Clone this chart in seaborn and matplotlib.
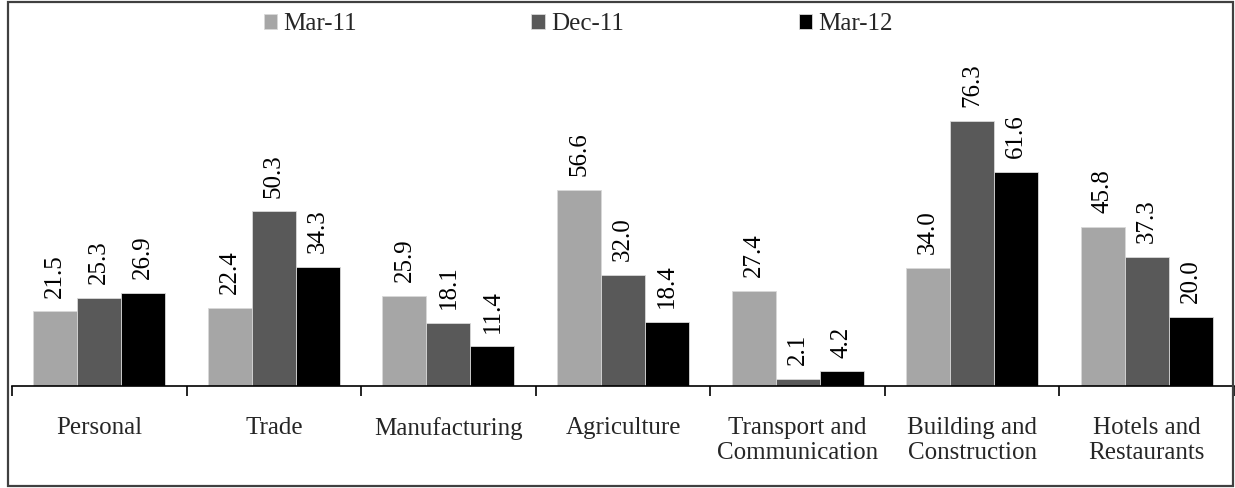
import matplotlib
matplotlib.use("Agg")
import matplotlib.pyplot as plt
from matplotlib.patches import Rectangle
from matplotlib.ticker import FixedLocator, NullFormatter
import pandas as pd
import seaborn as sns

# Sector categories (two-line labels where the text wraps)
sectors = [
    "Personal",
    "Trade",
    "Manufacturing",
    "Agriculture",
    "Transport and\nCommunication",
    "Building and\nConstruction",
    "Hotels and\nRestaurants",
]
periods = ["Mar-11", "Dec-11", "Mar-12"]

mar_11 = [21.5, 22.4, 25.9, 56.6, 27.4, 34.0, 45.8]
dec_11 = [25.3, 50.3, 18.1, 32.0, 2.1, 76.3, 37.3]
mar_12 = [26.9, 34.3, 11.4, 18.4, 4.2, 61.6, 20.0]

colors = ["#A6A6A6", "#595959", "#000000"]

df = pd.DataFrame({
    "sector": sectors * 3,
    "period": [periods[0]] * 7 + [periods[1]] * 7 + [periods[2]] * 7,
    "value": mar_11 + dec_11 + mar_12,
})

sns.set_theme(style="white")
plt.rcParams["font.family"] = ["Liberation Serif", "DejaVu Serif"]
FS = 18

W, H = 1235, 488
fig = plt.figure(figsize=(W / 100, H / 100), dpi=100)
fig.patch.set_facecolor("white")

# Axes placed in pixel terms: baseline at y=386 px, 3.47 px per unit
ymax = 80
ax_h = ymax * 3.47
ax = fig.add_axes([12 / W, 102 / H, 1222 / W, ax_h / H])

sns.barplot(
    data=df, x="sector", y="value", hue="period", order=sectors,
    hue_order=periods, palette=colors, width=0.756, gap=0,
    edgecolor="#d9d9d9", linewidth=0.6, saturation=1, ax=ax,
)

ax.set_ylim(0, ymax)
ax.set_xlim(-0.5, len(sectors) - 0.5)

for container in ax.containers:
    ax.bar_label(container, fmt="%.1f", rotation=90, padding=10,
                 fontsize=FS, color="black")

# Ticks at category boundaries, labels centred on categories
ax.xaxis.set_major_locator(FixedLocator([i - 0.5 for i in range(len(sectors) + 1)]))
ax.xaxis.set_major_formatter(NullFormatter())
ax.xaxis.set_minor_locator(FixedLocator(list(range(len(sectors)))))
ax.set_xticklabels(sectors, minor=True, fontsize=FS, linespacing=1.18,
                   va="top")
ax.tick_params(axis="x", which="major", direction="out", length=7,
               width=1.2, color="black", bottom=True)
ax.tick_params(axis="x", which="minor", length=0, pad=22)
ax.set_xlabel("")
ax.set_ylabel("")
ax.set_yticks([])
for side in ["left", "right", "top"]:
    ax.spines[side].set_visible(False)
ax.spines["bottom"].set_color("black")
ax.spines["bottom"].set_linewidth(1.2)

leg = ax.legend(
    loc="center", bbox_to_anchor=(0.468, 1 - 24 / H), bbox_transform=fig.transFigure,
    ncol=3, frameon=False, fontsize=FS, handlelength=0.55, handleheight=0.55,
    handletextpad=0.22, columnspacing=7.0,
)

# Outer chart frame
fig.patches.append(Rectangle((8 / W, 2 / H), 1225 / W, 484 / H,
                             transform=fig.transFigure, fill=False,
                             edgecolor="#404040", linewidth=1.6))

fig.savefig("out.png", dpi=100)
